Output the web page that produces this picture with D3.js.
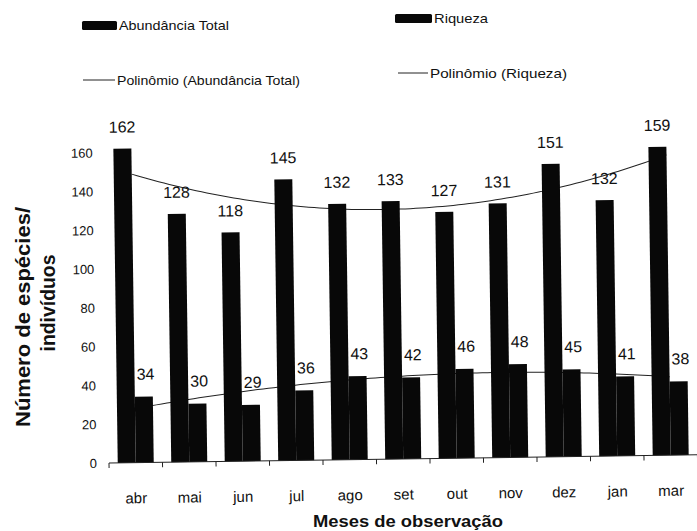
<!DOCTYPE html>
<html>
<head>
<meta charset="utf-8">
<script src="https://cdn.jsdelivr.net/npm/d3@7"></script>
<style>
  body { margin: 0; background: #fff; }
  svg { display: block; }
  text { font-family: Arial, "Liberation Sans", sans-serif; fill: #111; }
</style>
</head>
<body>
<svg id="chart" width="697" height="531"></svg>
<script>
// Monthly observations: total abundance and species richness
const months = ["abr", "mai", "jun", "jul", "ago", "set", "out", "nov", "dez", "jan", "mar"];
const abundancia = [162, 128, 118, 145, 132, 133, 127, 131, 151, 132, 159];
const riqueza = [34, 30, 29, 36, 43, 42, 46, 48, 45, 41, 38];
const yTicks = [0, 20, 40, 60, 80, 100, 120, 140, 160];
const seriesNames = ["Abundância Total", "Riqueza"];

const svg = d3.select("#chart");

// Plot group, tilted slightly around the axis origin
const origin = { x: 113, y: 463 };
const plot = svg.append("g")
  .attr("transform", `rotate(-0.8 ${origin.x} ${origin.y})`);

const x = d3.scaleBand().domain(months).range([109, 697.5]).padding(0);
const y = d3.scaleLinear().domain([0, 160]).range([463, 152.6]);
const pairWidth = 36;
const xs = d3.scaleBand().domain(seriesNames).range([0, pairWidth]);
const pairOffset = (x.bandwidth() - pairWidth) / 2;

// Second-order least-squares polynomial (Excel-style trendline), x = 1..n
function polyFit2(vals) {
  const n = vals.length;
  const S = [0, 0, 0, 0, 0];
  const T = [0, 0, 0];
  vals.forEach((v, i) => {
    const t = i + 1;
    for (let k = 0; k < 5; k++) S[k] += Math.pow(t, k);
    for (let k = 0; k < 3; k++) T[k] += v * Math.pow(t, k);
  });
  const A = [
    [S[0], S[1], S[2], T[0]],
    [S[1], S[2], S[3], T[1]],
    [S[2], S[3], S[4], T[2]]
  ];
  for (let c = 0; c < 3; c++) {
    for (let r = c + 1; r < 3; r++) {
      const f = A[r][c] / A[c][c];
      for (let k = c; k < 4; k++) A[r][k] -= f * A[c][k];
    }
  }
  const coef = [0, 0, 0];
  for (let r = 2; r >= 0; r--) {
    let s = A[r][3];
    for (let k = r + 1; k < 3; k++) s -= A[r][k] * coef[k];
    coef[r] = s / A[r][r];
  }
  return t => coef[0] + coef[1] * t + coef[2] * t * t;
}

const n = months.length;
const xc = d3.scaleLinear().domain([1, n])
  .range([x(months[0]) + x.bandwidth() / 2, x(months[n - 1]) + x.bandwidth() / 2]);
const tSamples = d3.range(1, n + 0.001, 0.1);
const line = d3.line().x(d => xc(d[0])).y(d => y(d[1])).curve(d3.curveLinear);

[abundancia, riqueza].forEach(vals => {
  const f = polyFit2(vals);
  plot.append("path")
    .attr("d", line(tSamples.map(t => [t, f(t)])))
    .attr("fill", "none")
    .attr("stroke", "#222")
    .attr("stroke-width", 1);
});

// Bars
const rows = months.map((m, i) => ({ m, a: abundancia[i], r: riqueza[i] }));
const groups = plot.selectAll("g.cat").data(rows).join("g")
  .attr("class", "cat")
  .attr("transform", d => `translate(${x(d.m) + pairOffset},0)`);

groups.append("rect")
  .attr("x", xs(seriesNames[0]))
  .attr("y", d => y(d.a))
  .attr("width", xs.bandwidth())
  .attr("height", d => y(0) - y(d.a))
  .attr("fill", "#080808");

groups.append("rect")
  .attr("x", xs(seriesNames[1]))
  .attr("y", d => y(d.r))
  .attr("width", xs.bandwidth())
  .attr("height", d => y(0) - y(d.r))
  .attr("fill", "#080808");

// Value labels
groups.append("text")
  .attr("x", xs(seriesNames[0]) + xs.bandwidth() / 2)
  .attr("y", d => y(d.a) - 16)
  .attr("text-anchor", "middle")
  .attr("font-size", 16)
  .text(d => d.a);

groups.append("text")
  .attr("x", xs(seriesNames[1]) + xs.bandwidth() / 2 + 2)
  .attr("y", d => y(d.r) - 17)
  .attr("text-anchor", "middle")
  .attr("font-size", 16)
  .text(d => d.r);

// X axis: baseline, boundary ticks and month labels
plot.append("line")
  .attr("x1", x.range()[0]).attr("x2", 705)
  .attr("y1", y(0)).attr("y2", y(0))
  .attr("stroke", "#222").attr("stroke-width", 1);

const boundaries = months.map(m => x(m)).concat([x.range()[1]]);
plot.selectAll("line.tick").data(boundaries).join("line")
  .attr("class", "tick")
  .attr("x1", d => d).attr("x2", d => d)
  .attr("y1", y(0)).attr("y2", y(0) + 5)
  .attr("stroke", "#222").attr("stroke-width", 1);

const xAxis = plot.append("g")
  .attr("transform", `translate(0,${y(0)})`)
  .call(d3.axisBottom(x).tickSize(0).tickPadding(30));
xAxis.select(".domain").remove();
xAxis.selectAll("text")
  .attr("font-size", 15)
  .attr("font-family", "Arial, 'Liberation Sans', sans-serif")
  .attr("fill", "#111");

// Y axis labels only
const yAxis = plot.append("g")
  .attr("transform", `translate(${origin.x},0)`)
  .call(d3.axisLeft(y).tickValues(yTicks).tickSize(0).tickPadding(16));
yAxis.select(".domain").remove();
yAxis.selectAll("text")
  .attr("font-size", 13)
  .attr("font-family", "Arial, 'Liberation Sans', sans-serif")
  .attr("fill", "#222");

// Axis titles
svg.append("text")
  .attr("x", 408).attr("y", 527)
  .attr("text-anchor", "middle")
  .attr("font-size", 17).attr("font-weight", "bold")
  .attr("textLength", 190).attr("lengthAdjust", "spacingAndGlyphs")
  .text("Meses de observação");

svg.append("text")
  .attr("transform", "translate(30,317) rotate(-90)")
  .attr("text-anchor", "middle")
  .attr("font-size", 20).attr("font-weight", "bold")
  .attr("textLength", 220).attr("lengthAdjust", "spacingAndGlyphs")
  .text("Número de espécies/");

svg.append("text")
  .attr("transform", "translate(55,303) rotate(-90)")
  .attr("text-anchor", "middle")
  .attr("font-size", 20).attr("font-weight", "bold")
  .attr("textLength", 97).attr("lengthAdjust", "spacingAndGlyphs")
  .text("indivíduos");

// Legend
const legendItems = [
  { type: "bar", label: seriesNames[0], x: 82, y: 30, w: 35, len: 110 },
  { type: "line", label: "Polinômio (" + seriesNames[0] + ")", x: 83, y: 85, w: 32, len: 183 },
  { type: "bar", label: seriesNames[1], x: 395, y: 23, w: 37, len: 54 },
  { type: "line", label: "Polinômio (" + seriesNames[1] + ")", x: 398, y: 78, w: 30, len: 137 }
];
const leg = svg.selectAll("g.legend").data(legendItems).join("g")
  .attr("class", "legend")
  .attr("transform", d => `translate(${d.x},${d.y})`);

leg.filter(d => d.type === "bar").append("rect")
  .attr("x", 0).attr("y", -9).attr("width", d => d.w).attr("height", 9)
  .attr("rx", 1.5)
  .attr("fill", "#080808");

leg.filter(d => d.type === "line").append("line")
  .attr("x1", 0).attr("x2", d => d.w)
  .attr("y1", -5).attr("y2", -5)
  .attr("stroke", "#222").attr("stroke-width", 1);

leg.append("text")
  .attr("x", d => d.w + 2)
  .attr("y", 0)
  .attr("font-size", 13)
  .attr("textLength", d => d.len).attr("lengthAdjust", "spacingAndGlyphs")
  .text(d => d.label);
</script>
</body>
</html>
